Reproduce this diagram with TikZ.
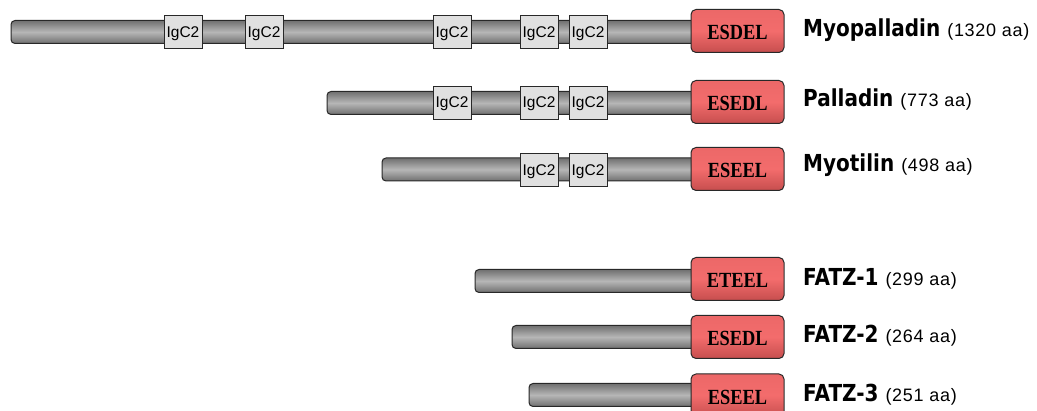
\documentclass[tikz,border=0pt]{standalone}
\usepackage{fontspec}
\newfontfamily\labelsans{DejaVu Sans}
\newfontfamily\lengthsans{Liberation Sans}[LetterSpace=4]
\newfontfamily\motifserif{Liberation Serif}
\newfontfamily\domainsans{Liberation Sans}

\definecolor{bardark}{RGB}{112,112,112}
\definecolor{barlight}{RGB}{182,182,182}
\definecolor{igfill}{RGB}{224,224,224}
\definecolor{motiftop}{RGB}{236,104,104}
\definecolor{motifmid}{RGB}{243,108,108}
\definecolor{motifbot}{RGB}{198,78,78}
\definecolor{edgecol}{RGB}{40,40,40}

% protein name in bold sans, stretched a little in height, then the length
\newcommand{\protlabel}[2]{\scalebox{1}[1.17]{\bfseries #1}\hspace{7pt}{\lengthsans\fontsize{18}{21}\selectfont (#2 aa)}}
\newcommand{\motiftext}[1]{\scalebox{1.02}[1.2]{\bfseries #1}}

\tikzset{
  backbone/.style={draw=edgecol, line width=1pt, rounded corners=4pt,
    top color=bardark, bottom color=bardark, middle color=barlight,
    minimum height=23pt, inner sep=0pt},
  igdom/.style={draw=edgecol, line width=0.9pt, fill=igfill,
    minimum width=38pt, minimum height=33pt, inner sep=0pt,
    text height=11pt, text depth=0pt,
    font=\domainsans\fontsize{15.5}{17}\selectfont},
  motif/.style={draw=edgecol, line width=1pt, rounded corners=5pt,
    top color=motiftop, bottom color=motifbot, middle color=motifmid,
    minimum width=93pt, minimum height=43pt, inner sep=0pt,
    text height=18pt, text depth=0pt,
    font=\motifserif\fontsize{18}{20}\selectfont},
  protname/.style={anchor=base west, inner sep=0pt,
    font=\labelsans\fontsize{20}{24}\selectfont}
}

\begin{document}
\begin{tikzpicture}[x=1pt,y=-1pt]
\path[use as bounding box] (0,0) rectangle (1037,411);
\clip (0,0) rectangle (1037,411);

% Myopalladin
\node[backbone, minimum width=689pt] (bar1) at (355.5,32) {};
\node[igdom] (ig11) at (183,32) {IgC2};
\node[igdom] (ig12) at (264,32) {IgC2};
\node[igdom] (ig13) at (452,32) {IgC2};
\node[igdom] (ig14) at (539,32) {IgC2};
\node[igdom] (ig15) at (588,32) {IgC2};
\node[motif] (m1) at (737.5,31) {\motiftext{ESDEL}};
\node[protname] (n1) at (803,36.7) {\protlabel{Myopalladin}{1320}};

% Palladin
\node[backbone, minimum width=373pt] (bar2) at (513.5,103) {};
\node[igdom] (ig21) at (452,102.5) {IgC2};
\node[igdom] (ig22) at (539,102.5) {IgC2};
\node[igdom] (ig23) at (588,102.5) {IgC2};
\node[motif] (m2) at (737.5,102) {\motiftext{ESEDL}};
\node[protname] (n2) at (803,106.7) {\protlabel{Palladin}{773}};

% Myotilin
\node[backbone, minimum width=318pt] (bar3) at (541,169.5) {};
\node[igdom] (ig31) at (539,169.7) {IgC2};
\node[igdom] (ig32) at (588,169.7) {IgC2};
\node[motif] (m3) at (737.5,169) {\motiftext{ESEEL}};
\node[protname] (n3) at (803,171.7) {\protlabel{Myotilin}{498}};

% FATZ family
\node[backbone, minimum width=225pt] (bar4) at (587.5,281) {};
\node[motif] (m4) at (737.5,279) {\motiftext{ETEEL}};
\node[protname] (n4) at (803,286) {\protlabel{FATZ-1}{299}};

\node[backbone, minimum width=188pt] (bar5) at (606,337) {};
\node[motif] (m5) at (737.5,337) {\motiftext{ESEDL}};
\node[protname] (n5) at (803,342.7) {\protlabel{FATZ-2}{264}};

\node[backbone, minimum width=171pt] (bar6) at (614.5,395) {};
\node[motif] (m6) at (737.5,395.5) {\motiftext{ESEEL}};
\node[protname] (n6) at (803,401.7) {\protlabel{FATZ-3}{251}};
\end{tikzpicture}
\end{document}
